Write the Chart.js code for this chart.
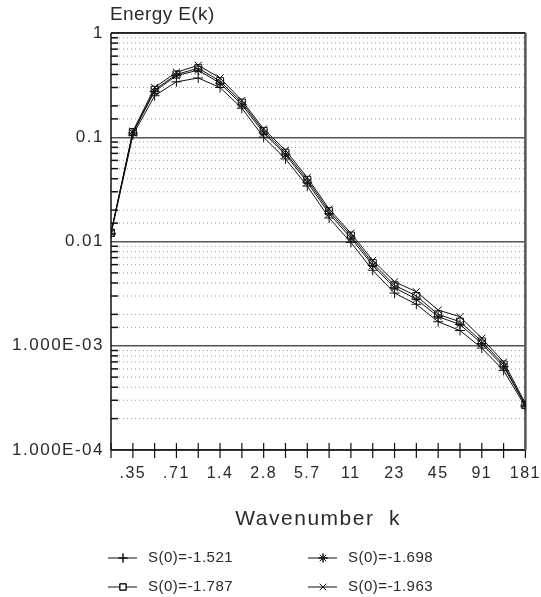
<!DOCTYPE html>
<html>
<head>
<meta charset="utf-8">
<title>Energy E(k)</title>
<script src="https://cdn.jsdelivr.net/npm/chart.js"></script>
<style>
  html, body { margin: 0; padding: 0; background: #fff; }
  #wrap { width: 541px; height: 597px; }
</style>
</head>
<body>
<div id="wrap"><canvas id="energy-chart" width="541" height="597"></canvas></div>
<script>
// --- data ---
const kValues = [0.25, 0.354, 0.5, 0.707, 1, 1.414, 2, 2.828, 4, 5.657, 8, 11.31, 16, 22.63, 32, 45.25, 64, 90.51, 128, 181];
const xTickLabels = ['', '.35', '', '.71', '', '1.4', '', '2.8', '', '5.7', '', '11', '', '23', '', '45', '', '91', '', '181'];

const yTickValues = [1, 0.1, 0.01, 0.001, 0.0001];
const yTickLabels = ['1', '0.1', '0.01', '1.000E-03', '1.000E-04'];

const seriesNames = ['S(0)=-1.521', 'S(0)=-1.698', 'S(0)=-1.787', 'S(0)=-1.963'];
const seriesMarkers = ['cross', 'star', 'rect', 'crossRot'];

const e1521 = [0.0118, 0.105, 0.25, 0.34, 0.37, 0.30, 0.19, 0.100, 0.062, 0.034, 0.0168, 0.0098, 0.0053, 0.0032, 0.0025, 0.0017, 0.0014, 0.00095, 0.00058, 0.00026];
const e1698 = [0.0120, 0.110, 0.275, 0.39, 0.44, 0.33, 0.205, 0.110, 0.068, 0.037, 0.0185, 0.0108, 0.0059, 0.0036, 0.0028, 0.0019, 0.0016, 0.00105, 0.00063, 0.00027];
const e1787 = [0.0121, 0.112, 0.285, 0.40, 0.46, 0.345, 0.215, 0.115, 0.071, 0.039, 0.0195, 0.0114, 0.0062, 0.0038, 0.0030, 0.0020, 0.0017, 0.0011, 0.00066, 0.00027];
const e1963 = [0.0122, 0.114, 0.30, 0.42, 0.49, 0.37, 0.225, 0.120, 0.075, 0.041, 0.0205, 0.0120, 0.0066, 0.0041, 0.0033, 0.0022, 0.0019, 0.00118, 0.00070, 0.00028];
const seriesValues = [e1521, e1698, e1787, e1963];

const FONT = '"Liberation Sans", Arial, sans-serif';
const INK = '#2a2a2a';

function isDecade(v) {
    return Math.abs(Math.log10(v) - Math.round(Math.log10(v))) < 1e-6;
}

function strokeLine(ctx, x1, y1, x2, y2) {
    ctx.beginPath();
    ctx.moveTo(x1, y1);
    ctx.lineTo(x2, y2);
    ctx.stroke();
}

function spacing(ctx, px) {
    if ('letterSpacing' in ctx) ctx.letterSpacing = px + 'px';
}

// grid dots, inner ticks, frame, title and legend
const framePlugin = {
    id: 'frame',
    beforeLayout(chart) { spacing(chart.ctx, 1.5); },
    beforeDraw(chart) { spacing(chart.ctx, 1.5); },
    beforeDatasetsDraw(chart) {
        const { ctx, chartArea: a, scales: { x, y } } = chart;
        ctx.save();
        y.ticks.forEach(t => {
            if (isDecade(t.value)) return;
            const py = y.getPixelForValue(t.value);
            ctx.strokeStyle = '#9a9a9a';
            ctx.lineWidth = 1;
            ctx.setLineDash([1, 3]);
            strokeLine(ctx, a.left, py, a.right, py);
            ctx.setLineDash([]);
            ctx.strokeStyle = '#111';
            ctx.lineWidth = 1.5;
            strokeLine(ctx, a.left, py, a.left + 7, py);
        });
        ctx.strokeStyle = '#111';
        ctx.lineWidth = 1.2;
        x.ticks.forEach(t => {
            const px = x.getPixelForValue(t.value);
            strokeLine(ctx, px, a.bottom - 7, px, a.bottom + 8);
        });
        ctx.lineWidth = 1.5;
        ctx.strokeStyle = '#111';
        strokeLine(ctx, a.left, a.top, a.right, a.top);
        strokeLine(ctx, a.left, a.top, a.left, a.bottom);
        strokeLine(ctx, a.left, a.bottom, a.right, a.bottom);
        ctx.strokeStyle = '#555';
        ctx.lineWidth = 2.5;
        strokeLine(ctx, a.right, a.top, a.right, a.bottom);
        ctx.restore();
    },
    afterDraw(chart) {
        const { ctx, chartArea: a } = chart;
        ctx.save();
        ctx.fillStyle = INK;
        spacing(ctx, 0.4);
        ctx.font = '19px ' + FONT;
        ctx.textAlign = 'left';
        ctx.textBaseline = 'middle';
        ctx.fillText('Energy E(k)', a.left - 1, 15);

        // legend, two columns
        spacing(ctx, 0.5);
        ctx.font = '15px ' + FONT;
        chart.data.datasets.forEach((ds, i) => {
            const lx = 108 + (i % 2) * 200;
            const ly = 558 + Math.floor(i / 2) * 29;
            ctx.strokeStyle = '#111';
            ctx.lineWidth = 1;
            strokeLine(ctx, lx, ly, lx + 29, ly);
            if (Chart.helpers && Chart.helpers.drawPoint) {
                ctx.fillStyle = '#fff';
                Chart.helpers.drawPoint(ctx, {
                    pointStyle: ds.pointStyle, radius: 4.5, rotation: 0, borderWidth: 1
                }, lx + 15, ly);
                ctx.stroke();
            }
            ctx.fillStyle = INK;
            ctx.fillText(ds.label, lx + 40, ly);
        });
        ctx.restore();
    }
};

const datasets = seriesNames.map((name, i) => ({
    label: name,
    data: kValues.map((k, j) => ({ x: k, y: seriesValues[i][j] })),
    borderColor: '#111',
    backgroundColor: 'rgba(0,0,0,0)',
    borderWidth: 1,
    pointStyle: seriesMarkers[i],
    pointRadius: 5,
    pointBorderColor: '#111',
    pointBorderWidth: 1,
    tension: 0
}));

new Chart(document.getElementById('energy-chart'), {
    type: 'line',
    data: { datasets: datasets },
    plugins: [framePlugin],
    options: {
        responsive: false,
        animation: false,
        devicePixelRatio: 1,
        layout: { padding: { left: 0, right: 14, top: 33, bottom: 65 } },
        plugins: { legend: { display: false }, tooltip: { enabled: false } },
        scales: {
            x: {
                type: 'logarithmic',
                min: kValues[0],
                max: kValues[kValues.length - 1],
                afterBuildTicks: scale => { scale.ticks = kValues.map(v => ({ value: v })); },
                afterFit: scale => { scale.height = 82; },
                grid: {
                    display: true,
                    drawOnChartArea: false,
                    drawTicks: true,
                    tickLength: 14,
                    color: 'rgba(0,0,0,0)'
                },
                border: { display: false },
                ticks: {
                    autoSkip: false,
                    maxRotation: 0,
                    padding: 0,
                    color: INK,
                    font: { family: FONT, size: 16 },
                    callback: (value, index) => xTickLabels[index]
                },
                title: {
                    display: true,
                    text: 'Wavenumber  k',
                    color: INK,
                    font: { family: FONT, size: 21 },
                    padding: { top: 19, bottom: 0 }
                }
            },
            y: {
                type: 'logarithmic',
                min: 0.0001,
                max: 1,
                afterFit: scale => { scale.width = 111; },
                grid: {
                    drawTicks: false,
                    lineWidth: 1.5,
                    color: ctx => (ctx.tick && isDecade(ctx.tick.value)) ? '#555' : 'rgba(0,0,0,0)'
                },
                border: { display: false },
                ticks: {
                    autoSkip: false,
                    padding: 7,
                    color: INK,
                    font: { family: FONT, size: 17 },
                    callback: value => {
                        const i = yTickValues.findIndex(v => Math.abs(v - value) / v < 1e-6);
                        return i >= 0 ? yTickLabels[i] : '';
                    }
                }
            }
        }
    }
});
</script>
</body>
</html>
